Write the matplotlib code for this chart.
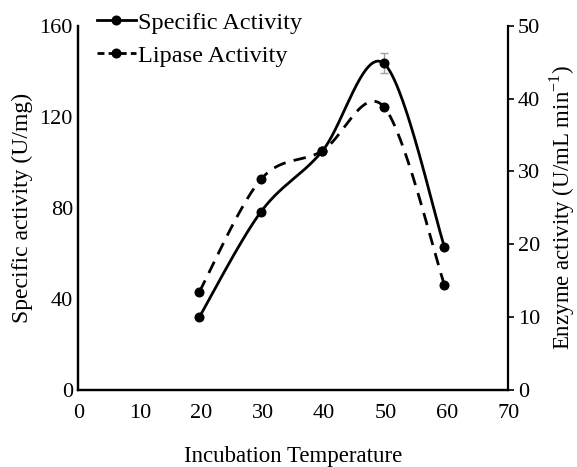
import numpy as np
import matplotlib
matplotlib.use("Agg")
import matplotlib.pyplot as plt
from matplotlib.lines import Line2D

plt.rcParams['font.family'] = ['Liberation Serif', 'DejaVu Serif']
plt.rcParams['mathtext.fontset'] = 'custom'
plt.rcParams['mathtext.rm'] = 'Liberation Serif'

temperature = [19.7, 29.7, 39.7, 49.7, 59.6]
specific_activity = [32.1, 78.2, 104.9, 143.5, 62.8]
specific_err = [0, 0, 0, 4.4, 0]
lipase_activity = [13.5, 28.9, 32.8, 38.9, 14.4]

x_ticks = [0, 10, 20, 30, 40, 50, 60, 70]
left_ticks = [0, 40, 80, 120, 160]
right_ticks = [0, 10, 20, 30, 40, 50]


def smooth(x, y, n=60):
    x = np.asarray(x, float)
    y = np.asarray(y, float)
    P = np.column_stack([x, y])
    Pe = np.vstack([P[0], P, P[-1]])
    out = []
    t = np.linspace(0, 1, n)[:, None]
    for i in range(len(P) - 1):
        p0, p1, p2, p3 = Pe[i], Pe[i + 1], Pe[i + 2], Pe[i + 3]
        c1 = p1 + (p2 - p0) / 6.0
        c2 = p2 - (p3 - p1) / 6.0
        seg = ((1 - t) ** 3) * p1 + 3 * ((1 - t) ** 2) * t * c1 + 3 * (1 - t) * t ** 2 * c2 + t ** 3 * p2
        out.append(seg if i == 0 else seg[1:])
    out = np.vstack(out)
    return out[:, 0], out[:, 1]


fig = plt.figure(figsize=(5.77, 4.67), dpi=100)
ax = fig.add_axes([0.136, 0.165, 0.745, 0.78])
ax2 = ax.twinx()

lw = 2.0
ms = 6.2

sx, sy = smooth(temperature, specific_activity)
ax.plot(sx, sy, color='black', lw=lw, solid_capstyle='round')
ax.errorbar(temperature, specific_activity, yerr=specific_err, fmt='none',
            ecolor='#a0a0a0', elinewidth=1.0, capsize=3, capthick=1.0, zorder=2)
ax.plot(temperature, specific_activity, 'o', color='black', ms=ms, zorder=3)

lx, ly = smooth(temperature, lipase_activity)
ax2.plot(lx, ly, color='black', lw=lw, dashes=(4.5, 3))
ax2.plot(temperature, lipase_activity, 'o', color='black', ms=ms, zorder=3)

ax.set_xlim(0, 70)
ax.set_ylim(0, 160)
ax2.set_ylim(0, 50)
ax.set_xticks(x_ticks)
ax.set_yticks(left_ticks)
ax2.set_yticks(right_ticks)

fs = 16
ax.tick_params(axis='x', length=0, labelsize=fs, pad=10)
ax.tick_params(axis='y', length=0, labelsize=fs, pad=4)
ax2.tick_params(axis='y', length=4, width=1.2, labelsize=fs, pad=3)

for a in (ax, ax2):
    a.spines['top'].set_visible(False)
    for s in ('left', 'right', 'bottom'):
        a.spines[s].set_linewidth(1.6)
ax.spines['right'].set_visible(False)

ax.set_xlabel('Incubation Temperature', fontsize=16.5, labelpad=17)
ax.set_ylabel('Specific activity (U/mg)', fontsize=17, labelpad=5)
ax2.set_ylabel(r'Enzyme activity (U/mL min$^{\mathregular{-1}}$)', fontsize=16.5, labelpad=5)

handles = [
    Line2D([], [], color='black', lw=lw, marker='o', ms=ms),
    Line2D([], [], color='black', lw=lw, dashes=(2.5, 1.5), marker='o', ms=ms),
]
ax.legend(handles, ['Specific Activity', 'Lipase Activity'], loc='upper left',
          bbox_to_anchor=(0.02, 1.065), frameon=False, fontsize=17.5,
          handlelength=1.6, handletextpad=0.1, labelspacing=0.45, borderaxespad=0)

fig.savefig('out.png', dpi=100)
